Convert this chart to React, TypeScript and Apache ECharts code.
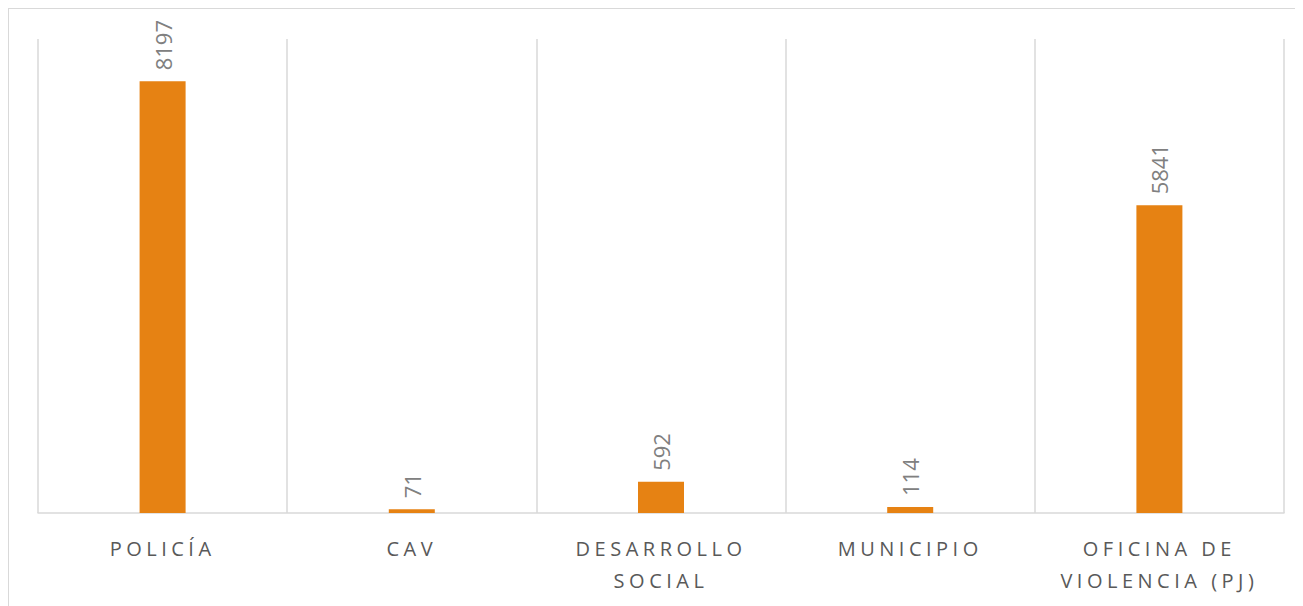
import React, { useEffect, useRef } from "react";
import * as echarts from "echarts";

const categories = ["POLICÍA", "CAV", "DESARROLLO\nSOCIAL", "MUNICIPIO", "OFICINA DE\nVIOLENCIA (PJ)"];
const values = [8197, 71, 592, 114, 5841];
const axisMax = 9000;

export default function App() {
  const ref = useRef<HTMLDivElement>(null);
  useEffect(() => {
    if (!ref.current) return;
    const chart = echarts.init(ref.current, undefined, { renderer: "svg" });
    chart.setOption({
      animation: false,
      textStyle: { fontFamily: "Open Sans" },
      grid: { left: 29, right: 18, top: 30, bottom: 96 },
      xAxis: {
        type: "category",
        data: categories,
        axisLine: { show: true, lineStyle: { color: "#d9d9d9", width: 1.5 } },
        axisTick: { show: false },
        splitLine: { show: true, lineStyle: { color: "#d9d9d9", width: 1.5 } },
        axisLabel: {
          color: "#595959",
          fontSize: 20,
          lineHeight: 32,
          margin: 19,
          interval: 0,
          fontFamily: "Open Sans",
        },
      },
      yAxis: {
        type: "value",
        min: 0,
        max: axisMax,
        show: false,
        splitLine: { show: false },
      },
      series: [
        {
          type: "bar",
          data: values,
          barWidth: 46,
          itemStyle: { color: "#E68213" },
          label: {
            show: true,
            position: "top",
            rotate: 90,
            align: "left",
            verticalAlign: "middle",
            distance: 11,
            color: "#808080",
            fontSize: 22,
            fontFamily: "Open Sans",
          },
        },
      ],
    });
    return () => chart.dispose();
  }, []);
  return (
    <div
      style={{
        width: 1295,
        height: 620,
        border: "1px solid #d9d9d9",
        boxSizing: "border-box",
        background: "#fff",
      }}
    >
      <style>{`.cat-chart text[fill="#595959"], .cat-chart text[fill="rgb(89,89,89)"] { letter-spacing: 4.5px; }`}</style>
      <div ref={ref} className="cat-chart" style={{ width: 1293, height: 600 }} />
    </div>
  );
}
